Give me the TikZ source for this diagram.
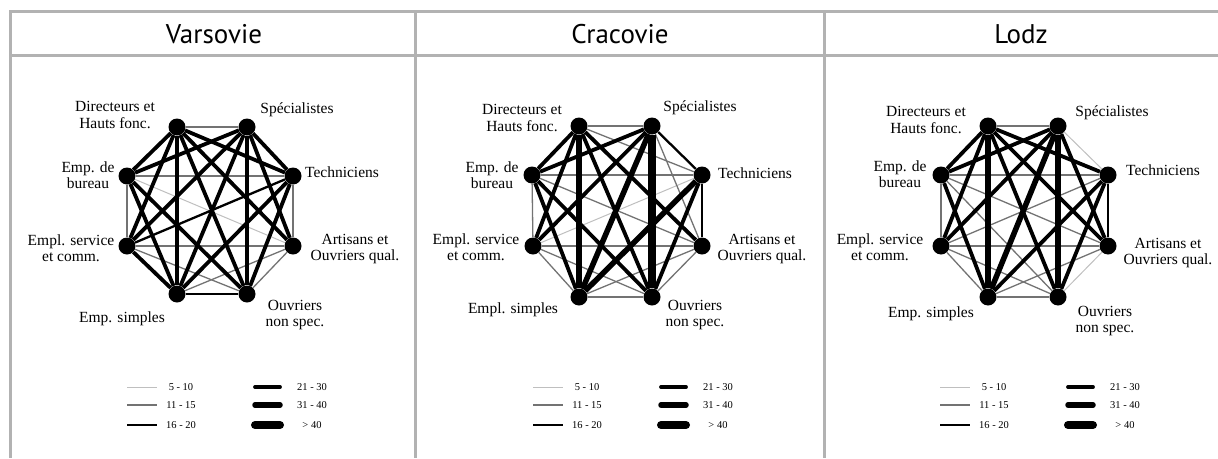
\documentclass[tikz,border=0pt]{standalone}
\usepackage{fontspec}
\setmainfont{Liberation Serif}
\newfontfamily\headfont{PT Sans}

\begin{document}
\begin{tikzpicture}[
    x=1pt, y=-1pt,
    font=\fontsize{15.5}{16.5}\selectfont,
    frame/.style={draw=black!30, line width=3pt},
    dot/.style={circle, fill=black, inner sep=0pt, minimum size=17pt},
    lbl/.style={align=center, inner sep=0pt},
    title/.style={font=\headfont\fontsize{27}{30}\selectfont},
    keytext/.style={font=\fontsize{10.5}{12}\selectfont, inner sep=0pt},
    w1/.style={draw=black!25, line width=1pt},
    w2/.style={draw=black!55, line width=1.3pt},
    w3/.style={draw=black, line width=2.3pt},
    w4/.style={draw=black, line width=3.8pt},
    w5/.style={draw=black, line width=5.5pt},
    w6/.style={draw=black, line width=8pt}
]
    \useasboundingbox (0,0) rectangle (1218,458);

    % frame and headers
    \coordinate (tl) at (10,11.5);
    \coordinate (tr) at (1218,11.5);
    \coordinate (hl) at (10,55);
    \coordinate (hr) at (1218,55);
    \draw[frame] (tl) -- (tr);
    \draw[frame] (hl) -- (hr);
    \foreach \x in {10,415,824} {
        \coordinate (top-\x) at (\x,10);
        \coordinate (bot-\x) at (\x,458);
        \draw[frame] (top-\x) -- (bot-\x);
    }
    \node[title] (vtitle) at (214,34) {Varsovie};
    \node[title] (ctitle) at (620,34) {Cracovie};
    \node[title] (ltitle) at (1021,34) {Lodz};

    % Varsovie
    \node[dot] (v-D) at (177,127) {};
    \node[dot] (v-S) at (247,127) {};
    \node[dot] (v-B) at (127,176) {};
    \node[dot] (v-T) at (293,176) {};
    \node[dot] (v-V) at (127,246) {};
    \node[dot] (v-A) at (293,246) {};
    \node[dot] (v-E) at (177,294) {};
    \node[dot] (v-O) at (247,294) {};
    \foreach \a/\b/\w in {B/A/w1,
        D/S/w2, B/T/w2, B/V/w2, T/A/w2, V/A/w2, V/O/w2, A/E/w2, A/O/w2,
        E/O/w3, T/V/w3,
        D/B/w4, D/V/w4, D/E/w4, D/O/w4, D/A/w4, D/T/w4, S/B/w4, S/V/w4,
        S/E/w4, S/O/w4, S/T/w4, S/A/w4, B/E/w4, B/O/w4, T/E/w4, T/O/w4, V/E/w4}
        \draw[\w] (v-\a) -- (v-\b);
    \node[lbl] (v-Dl) at (115,115) {Directeurs et\\Hauts fonc.};
    \node[lbl] (v-Sl) at (297,110) {Spécialistes};
    \node[lbl] (v-Bl) at (88,175) {Emp. de\\bureau};
    \node[lbl] (v-Tl) at (342,172) {Techniciens};
    \node[lbl] (v-Vl) at (71,248) {Empl. service\\et comm.};
    \node[lbl] (v-Al) at (355,249) {Artisans et\\Ouvriers qual.};
    \node[lbl] (v-El) at (122,319) {Emp. simples};
    \node[lbl] (v-Ol) at (295,315) {Ouvriers\\non spec.};

    % Cracovie
    \node[dot] (c-D) at (579,126) {};
    \node[dot] (c-S) at (652,126) {};
    \node[dot] (c-B) at (532,175) {};
    \node[dot] (c-T) at (702,175) {};
    \node[dot] (c-V) at (533,246) {};
    \node[dot] (c-A) at (702,246) {};
    \node[dot] (c-E) at (579,297) {};
    \node[dot] (c-O) at (652,297) {};
    \foreach \a/\b/\w in {T/V/w1,
        D/S/w2, D/T/w2, S/A/w2, B/T/w2, B/V/w2, B/A/w2, V/A/w2, V/E/w2,
        V/O/w2, A/E/w2, A/O/w2, E/O/w2,
        T/A/w3, S/T/w3,
        D/B/w4, D/V/w4, D/O/w4, D/A/w4, S/B/w4, S/V/w4, B/E/w4, B/O/w4, T/O/w4,
        D/E/w5, S/E/w5, T/E/w5,
        S/O/w6}
        \draw[\w] (c-\a) -- (c-\b);
    \node[lbl] (c-Dl) at (522,118) {Directeurs et\\Hauts fonc.};
    \node[lbl] (c-Sl) at (700,108) {Spécialistes};
    \node[lbl] (c-Bl) at (492,175) {Emp. de\\bureau};
    \node[lbl] (c-Tl) at (755,173) {Techniciens};
    \node[lbl] (c-Vl) at (476,247) {Empl. service\\et comm.};
    \node[lbl] (c-Al) at (762,249) {Artisans et\\Ouvriers qual.};
    \node[lbl] (c-El) at (513,310) {Empl. simples};
    \node[lbl] (c-Ol) at (695,315) {Ouvriers\\non spec.};

    % Lodz
    \node[dot] (l-D) at (988,126) {};
    \node[dot] (l-S) at (1058,126) {};
    \node[dot] (l-B) at (941,175) {};
    \node[dot] (l-T) at (1108,175) {};
    \node[dot] (l-V) at (941,246) {};
    \node[dot] (l-A) at (1108,246) {};
    \node[dot] (l-E) at (988,297) {};
    \node[dot] (l-O) at (1058,297) {};
    \foreach \a/\b/\w in {S/T/w1, A/O/w1,
        D/S/w2, B/T/w2, B/V/w2, B/O/w2, B/A/w2, T/V/w2, V/A/w2, V/E/w2,
        V/O/w2, A/E/w2, E/O/w2,
        T/A/w3,
        D/B/w4, D/V/w4, D/O/w4, D/A/w4, D/T/w4, S/B/w4, S/V/w4, S/A/w4,
        B/E/w4, T/E/w4, T/O/w4,
        D/E/w5, S/E/w5, S/O/w5}
        \draw[\w] (l-\a) -- (l-\b);
    \node[lbl] (l-Dl) at (926,120) {Directeurs et\\Hauts fonc.};
    \node[lbl] (l-Sl) at (1112,113) {Spécialistes};
    \node[lbl] (l-Bl) at (900,174) {Emp. de\\bureau};
    \node[lbl] (l-Tl) at (1163,170) {Techniciens};
    \node[lbl] (l-Vl) at (880,247) {Empl. service\\et comm.};
    \node[lbl] (l-Al) at (1168,253) {Artisans et\\Ouvriers qual.};
    \node[lbl] (l-El) at (931,314) {Emp. simples};
    \node[lbl] (l-Ol) at (1105,321) {Ouvriers\\non spec.};

    % legends
    \foreach \p/\cx in {v/211, c/617, l/1024} {
        \foreach \w/\y/\txt in {w1/387/5 - 10, w2/405/11 - 15, w3/425/16 - 20} {
            \coordinate (\p-\w a) at (\cx-84,\y);
            \coordinate (\p-\w b) at (\cx-54,\y);
            \draw[\w] (\p-\w a) -- (\p-\w b);
            \node[keytext] (\p-\w t) at (\cx-30,\y) {\txt};
        }
        \foreach \w/\y/\txt in {w4/387/21 - 30, w5/405/31 - 40, w6/425/> 40} {
            \coordinate (\p-\w a) at (\cx+44,\y);
            \coordinate (\p-\w b) at (\cx+69,\y);
            \draw[\w, line cap=round] (\p-\w a) -- (\p-\w b);
            \node[keytext] (\p-\w t) at (\cx+101,\y) {\txt};
        }
    }
\end{tikzpicture}
\end{document}
